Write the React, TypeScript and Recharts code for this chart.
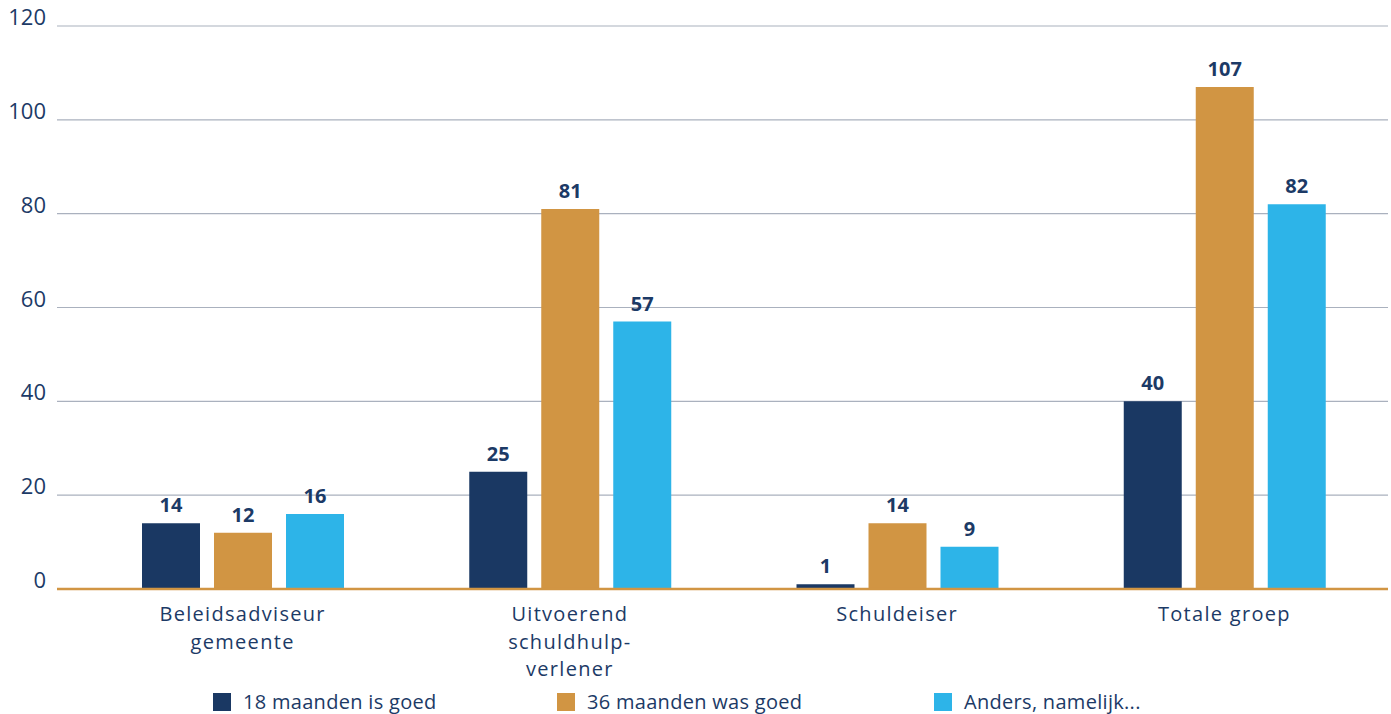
import { Bar, BarChart, CartesianGrid, LabelList, XAxis, YAxis } from 'recharts'

const categories = [
  ['Beleidsadviseur', 'gemeente'],
  ['Uitvoerend', 'schuldhulp-', 'verlener'],
  ['Schuldeiser'],
  ['Totale groep'],
]
const achttienMaanden = [14, 25, 1, 40]
const zesendertigMaanden = [12, 81, 14, 107]
const anders = [16, 57, 9, 82]
const yTicks = [0, 20, 40, 60, 80, 100, 120]

const seriesNames = ['18 maanden is goed', '36 maanden was goed', 'Anders, namelijk...']
const colors = ['#1a3863', '#d19543', '#2db4e8']
const textColor = '#1c3a66'
const font = '"Open Sans", sans-serif'

const data = categories.map((lines, i) => ({
  name: lines.join(' '),
  lines,
  a: achttienMaanden[i],
  b: zesendertigMaanden[i],
  c: anders[i],
}))

function CategoryTick(props: any) {
  const { x, y, index } = props
  const lines = categories[index] ?? []
  return (
    <g>
      {lines.map((l, i) => (
        <text
          key={i}
          x={x}
          y={y + 24 + i * 27.5}
          textAnchor="middle"
          fill={textColor}
          fontSize={20}
          letterSpacing={1.3}
          fontFamily={font}
        >
          {l}
        </text>
      ))}
    </g>
  )
}

function ValueTick(props: any) {
  const { y, payload } = props
  return (
    <text x={46} y={y - 1} textAnchor="end" fill={textColor} fontSize={22} fontFamily={font}>
      {payload.value}
    </text>
  )
}

const legendX = [213, 557, 934]

export default function App() {
  const keys = ['a', 'b', 'c']
  return (
    <div style={{ position: 'absolute', left: 0, top: 0, width: 1391, height: 714, background: '#fff' }}>
      <BarChart
        width={1391}
        height={714}
        data={data}
        margin={{ top: 26, right: 3, bottom: 0, left: 0 }}
        barSize={58}
        barGap={14}
      >
        <CartesianGrid vertical={false} stroke="#aab1be" strokeWidth={1.2} />
        <XAxis
          dataKey="name"
          height={125}
          padding={{ left: 22, right: 0 }}
          axisLine={{ stroke: '#d19543', strokeWidth: 2.5 }}
          tickLine={false}
          tick={<CategoryTick />}
          interval={0}
        />
        <YAxis
          width={57}
          domain={[0, 120]}
          ticks={yTicks}
          axisLine={false}
          tickLine={false}
          tick={<ValueTick />}
        />
        {keys.map((k, i) => (
          <Bar key={k} dataKey={k} name={seriesNames[i]} fill={colors[i]} isAnimationActive={false}>
            <LabelList
              dataKey={k}
              position="top"
              offset={11}
              fill={textColor}
              fontSize={20}
              fontWeight={700}
              fontFamily={font}
            />
          </Bar>
        ))}
      </BarChart>
      {seriesNames.map((s, i) => (
        <div
          key={s}
          style={{
            position: 'absolute',
            left: legendX[i],
            top: 688,
            display: 'flex',
            alignItems: 'center',
            fontFamily: font,
            fontSize: 20,
            letterSpacing: 0.3,
            color: textColor,
            whiteSpace: 'nowrap',
          }}
        >
          <span style={{ width: 18, height: 18, background: colors[i], display: 'inline-block', marginRight: 12 }} />
          {s}
        </div>
      ))}
    </div>
  )
}
